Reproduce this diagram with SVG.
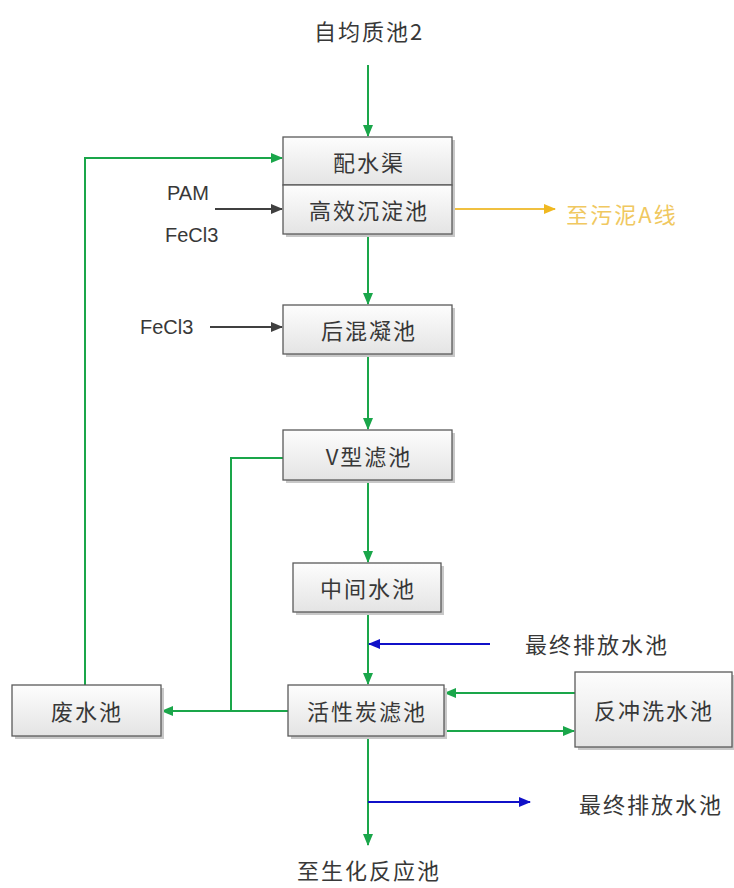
<svg xmlns="http://www.w3.org/2000/svg" width="734" height="888" viewBox="0 0 734 888">
<style>
.box{fill:url(#g);stroke:#5a5a5a;stroke-width:1.3}
.sh{fill:#c8c8c8}
.t{font-family:"Noto Sans CJK SC","Liberation Sans",sans-serif;font-size:22px;letter-spacing:2px;fill:#383838;text-anchor:middle;dominant-baseline:central}
.lt{font-family:"Liberation Sans","Noto Sans CJK SC",sans-serif;font-size:20px;fill:#383838;dominant-baseline:central}
.gr{stroke:#1aa64a;stroke-width:2;fill:none}
.bl{stroke:#1010c8;stroke-width:2;fill:none}
.gy{stroke:#404040;stroke-width:2;fill:none}
.yl{stroke:#f0c040;stroke-width:2;fill:none}
</style>
<defs>
<linearGradient id="g" x1="0" y1="0" x2="0" y2="1"><stop offset="0" stop-color="#fdfdfd"/><stop offset="1" stop-color="#e4e4e4"/></linearGradient>
<marker id="ag" markerWidth="12" markerHeight="10" refX="11" refY="5" orient="auto" markerUnits="userSpaceOnUse"><path d="M0,0 L12,5 L0,10 Z" fill="#1aa64a"/></marker>
<marker id="ab" markerWidth="12" markerHeight="10" refX="11" refY="5" orient="auto" markerUnits="userSpaceOnUse"><path d="M0,0 L12,5 L0,10 Z" fill="#1010c8"/></marker>
<marker id="ay" markerWidth="12" markerHeight="10" refX="11" refY="5" orient="auto" markerUnits="userSpaceOnUse"><path d="M0,0 L12,5 L0,10 Z" fill="#f0b820"/></marker>
<marker id="ak" markerWidth="12" markerHeight="10" refX="11" refY="5" orient="auto" markerUnits="userSpaceOnUse"><path d="M0,0 L12,5 L0,10 Z" fill="#404040"/></marker>
</defs>
<rect width="734" height="888" fill="#fff"/>
<g id="connectors">
<line class="gr" x1="368" y1="65" x2="368" y2="136" marker-end="url(#ag)"/>
<line class="gr" x1="368" y1="234" x2="368" y2="304" marker-end="url(#ag)"/>
<line class="gr" x1="368" y1="354" x2="368" y2="429" marker-end="url(#ag)"/>
<line class="gr" x1="368" y1="480" x2="368" y2="562" marker-end="url(#ag)"/>
<line class="gr" x1="368" y1="612" x2="368" y2="684" marker-end="url(#ag)"/>
<line class="gr" x1="368" y1="736" x2="368" y2="845" marker-end="url(#ag)"/>
<polyline class="gr" points="85,685 85,158 282,158" marker-end="url(#ag)"/>
<polyline class="gr" points="283,458 231,458 231,711"/>
<line class="gr" x1="288" y1="711" x2="162" y2="711" marker-end="url(#ag)"/>
<line class="gr" x1="575" y1="693" x2="445" y2="693" marker-end="url(#ag)"/>
<line class="gr" x1="444" y1="731" x2="574" y2="731" marker-end="url(#ag)"/>
<line class="bl" x1="490" y1="644" x2="369" y2="644" marker-end="url(#ab)"/>
<line class="bl" x1="368" y1="802" x2="530" y2="802" marker-end="url(#ab)"/>
<line class="yl" x1="452" y1="209" x2="555" y2="209" marker-end="url(#ay)"/>
<line class="gy" x1="215" y1="209" x2="282" y2="209" marker-end="url(#ak)"/>
<line class="gy" x1="210" y1="327" x2="282" y2="327" marker-end="url(#ak)"/>
</g>
<g id="n-top"><text class="t" x="369" y="30">自均质池2</text></g>
<g id="n-peishui"><rect class="sh" x="286" y="140" width="169" height="48"/><rect class="box" x="283" y="137" width="169" height="48"/><text class="t" x="369" y="161">配水渠</text></g>
<g id="n-gaoxiao"><rect class="sh" x="286" y="188" width="169" height="49"/><rect class="box" x="283" y="185" width="169" height="49"/><text class="t" x="369" y="209">高效沉淀池</text></g>
<g id="n-houhun"><rect class="sh" x="286" y="308" width="169" height="49"/><rect class="box" x="283" y="305" width="169" height="49"/><text class="t" x="369" y="329">后混凝池</text></g>
<g id="n-vlv"><rect class="sh" x="286" y="433" width="169" height="50"/><rect class="box" x="283" y="430" width="169" height="50"/><text class="t" x="369" y="455">V型滤池</text></g>
<g id="n-zhongjian"><rect class="sh" x="296" y="566" width="148" height="49"/><rect class="box" x="293" y="563" width="148" height="49"/><text class="t" x="368" y="587">中间水池</text></g>
<g id="n-huoxing"><rect class="sh" x="291" y="688" width="156" height="51"/><rect class="box" x="288" y="685" width="156" height="51"/><text class="t" x="367" y="710">活性炭滤池</text></g>
<g id="n-feishui"><rect class="sh" x="15" y="688" width="149" height="51"/><rect class="box" x="12" y="685" width="149" height="51"/><text class="t" x="87" y="710">废水池</text></g>
<g id="n-fanchong"><rect class="sh" x="578" y="675" width="156" height="75"/><rect class="box" x="575" y="672" width="157" height="75"/><text class="t" x="654" y="709">反冲洗水池</text></g>
<g id="n-labels">
<text class="lt" x="167" y="193">PAM</text>
<text class="lt" x="165" y="235">FeCl3</text>
<text class="lt" x="140" y="327">FeCl3</text>
<text class="t" x="622" y="213" style="fill:#f0c860">至污泥A线</text>
<text class="t" x="597" y="643">最终排放水池</text>
<text class="t" x="651" y="803">最终排放水池</text>
<text class="t" x="369" y="869">至生化反应池</text>
</g>
</svg>
